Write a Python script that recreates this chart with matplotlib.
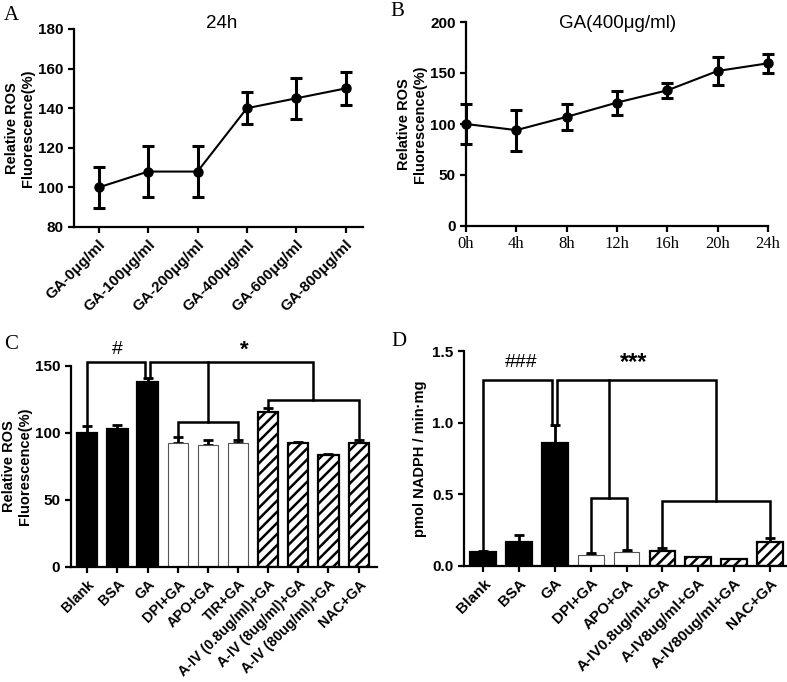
import matplotlib
matplotlib.use("Agg")
import matplotlib.pyplot as plt
import numpy as np

plt.rcParams['font.family'] = ['Liberation Sans', 'DejaVu Sans']
plt.rcParams['hatch.linewidth'] = 1.8

# panel A: dose response at 24h
a_labels = ['GA-0μg/ml', 'GA-100μg/ml', 'GA-200μg/ml', 'GA-400μg/ml', 'GA-600μg/ml', 'GA-800μg/ml']
a_mean = [100, 108, 108, 140, 145, 150]
a_err = [10.5, 13, 12.7, 8, 10.3, 8.5]

# panel B: time course at 400 ug/ml
b_hours = [0, 4, 8, 12, 16, 20, 24]
b_mean = [100, 94, 107, 121, 133, 152, 159.5]
b_err = [20, 20, 13, 11.7, 7.5, 14, 9.5]

# panel C: ROS with inhibitors
c_labels = ['Blank', 'BSA', 'GA', 'DPI+GA', 'APO+GA', 'TIR+GA', 'A-IV (0.8ug/ml)+GA',
            'A-IV (8ug/ml)+GA', 'A-IV (80ug/ml)+GA', 'NAC+GA']
c_mean = [100, 102.5, 137.5, 92, 91, 92.3, 115.3, 92.5, 83.2, 92]
c_err = [5, 3, 3.5, 4.5, 3.8, 2, 3.4, 0.8, 0.8, 2.5]
c_style = ['black', 'black', 'black', 'white', 'white', 'white', 'hatch', 'hatch', 'hatch', 'hatch']

# panel D: NADPH oxidase activity
d_labels = ['Blank', 'BSA', 'GA', 'DPI+GA', 'APO+GA', 'A-IV0.8ug/ml+GA', 'A-IV8ug/ml+GA',
            'A-IV80ug/ml+GA', 'NAC+GA']
d_mean = [0.095, 0.165, 0.855, 0.075, 0.098, 0.105, 0.06, 0.045, 0.165]
d_err = [0.01, 0.047, 0.13, 0.011, 0.011, 0.022, 0.003, 0.005, 0.03]
d_style = ['black', 'black', 'black', 'white', 'white', 'hatch', 'hatch', 'hatch', 'hatch']

fig = plt.figure(figsize=(7.87, 6.82), dpi=100)
W, H = 787.0, 682.0


def rect(l, r, t, b):
    return [l / W, 1 - b / H, (r - l) / W, (b - t) / H]


def style_axes(ax):
    for s in ['top', 'right']:
        ax.spines[s].set_visible(False)
    for s in ['left', 'bottom']:
        ax.spines[s].set_linewidth(1.6)
    ax.tick_params(width=1.6, length=4, labelsize=11)
    for t in ax.get_yticklabels():
        t.set_fontweight('bold')


def panel_letter(x, y, s):
    fig.text(x / W, 1 - y / H, s, family='Liberation Serif', fontsize=15, va='top', ha='left')


def title(x, y, s):
    fig.text(x / W, 1 - y / H, s, fontsize=13.5, ha='center', va='baseline')


# ---- A
axA = fig.add_axes(rect(74, 363, 29, 227))
xa = np.arange(len(a_mean))
axA.errorbar(xa, a_mean, yerr=a_err, color='black', lw=1.5, marker='o', ms=6.5,
             elinewidth=2.2, capsize=4.5, capthick=2.2)
axA.set_xlim(-0.5, 5.35)
axA.set_ylim(80, 180)
axA.set_yticks([80, 100, 120, 140, 160, 180])
axA.set_xticks(xa)
axA.set_xticklabels(a_labels, rotation=45, ha='right', rotation_mode='anchor', fontweight='bold')
axA.set_ylabel('Relative ROS\nFluorescence(%)', fontweight='bold', fontsize=10.5, labelpad=2)
style_axes(axA)
title(222, 28, '24h')
panel_letter(4, 6, 'A')

# ---- B
axB = fig.add_axes(rect(466, 768, 22, 226))
axB.errorbar(b_hours, b_mean, yerr=b_err, color='black', lw=1.5, marker='o', ms=6.5,
             elinewidth=2.2, capsize=4.5, capthick=2.2, clip_on=False)
axB.set_xlim(0, 24)
axB.set_ylim(0, 200)
axB.set_yticks([0, 50, 100, 150, 200])
axB.set_xticks(b_hours)
axB.set_xticklabels(['%dh' % h for h in b_hours], family='Liberation Serif')
axB.set_ylabel('Relative ROS\nFluorescence(%)', fontweight='bold', fontsize=10.5, labelpad=2)
style_axes(axB)
for t in axB.get_xticklabels():
    t.set_fontsize(12)
title(618, 28, 'GA(400μg/ml)')
panel_letter(390, 2, 'B')


def draw_bars(ax, means, errs, styles, width):
    x = np.arange(len(means))
    for i, (m, e, s) in enumerate(zip(means, errs, styles)):
        if s == 'black':
            ax.bar(i, m, width, color='black', edgecolor='black', lw=1.6, zorder=2)
        elif s == 'white':
            ax.bar(i, m, width, color='white', edgecolor='#555555', lw=0.8, zorder=2)
        else:
            ax.bar(i, m, width, color='white', edgecolor='black', hatch='///', lw=1.6, zorder=2)
        ax.errorbar(i, m, yerr=[[0], [e]], color='black', elinewidth=2, capsize=3.5,
                    capthick=2, zorder=1)
    return x


def path(ax, xs, ys):
    ax.plot(xs, ys, color='black', lw=1.8, clip_on=False, solid_joinstyle='miter', zorder=3)


# ---- C
axC = fig.add_axes(rect(70.7, 376.7, 365.7, 566.7))
xc = draw_bars(axC, c_mean, c_err, c_style, 0.67)
axC.set_xlim(-0.55, 9.6)
axC.set_ylim(0, 150)
axC.set_yticks([0, 50, 100, 150])
axC.set_xticks(xc)
axC.set_xticklabels(c_labels, rotation=45, ha='right', rotation_mode='anchor', fontweight='bold')
axC.set_ylabel('Relative ROS\nFluorescence(%)', fontweight='bold', fontsize=10.5, labelpad=2)
style_axes(axC)
for t in axC.get_xticklabels():
    t.set_fontsize(10.3)
ctop = [m + e for m, e in zip(c_mean, c_err)]
path(axC, [0, 0, 1.93, 1.93], [ctop[0], 153, 153, ctop[2]])
path(axC, [2.07, 2.07, 7.5, 7.5], [ctop[2], 153, 153, 124.5])
path(axC, [4, 4], [153, 108])
path(axC, [3, 3, 5, 5], [ctop[3], 108, 108, ctop[5]])
path(axC, [6, 6, 9, 9], [ctop[6], 124.5, 124.5, ctop[9]])
axC.text(1.0, 156, '#', ha='center', va='bottom', fontsize=14)
axC.text(5.2, 154, '*', ha='center', va='bottom', fontsize=16, fontweight='bold')
panel_letter(4, 335, 'C')

# ---- D
axD = fig.add_axes(rect(464, 786.7, 351, 565.7))
xd = draw_bars(axD, d_mean, d_err, d_style, 0.72)
axD.set_xlim(-0.54, 8.47)
axD.set_ylim(0, 1.5)
axD.set_yticks([0.0, 0.5, 1.0, 1.5])
axD.set_yticklabels(['0.0', '0.5', '1.0', '1.5'])
axD.set_xticks(xd)
axD.set_xticklabels(d_labels, rotation=45, ha='right', rotation_mode='anchor', fontweight='bold')
axD.set_ylabel('pmol NADPH / min·mg', fontweight='bold', fontsize=10.5)
style_axes(axD)
dtop = [m + e for m, e in zip(d_mean, d_err)]
path(axD, [0, 0, 1.93, 1.93], [dtop[0], 1.3, 1.3, dtop[2]])
path(axD, [2.05, 2.05, 6.5, 6.5], [dtop[2], 1.3, 1.3, 0.455])
path(axD, [3.5, 3.5], [1.3, 0.47])
path(axD, [3, 3, 4, 4], [dtop[3], 0.47, 0.47, dtop[4]])
path(axD, [5, 5, 8, 8], [dtop[5], 0.455, 0.455, dtop[8]])
axD.text(1.05, 1.36, '###', ha='center', va='bottom', fontsize=14)
axD.text(4.2, 1.34, '***', ha='center', va='bottom', fontsize=17, fontweight='bold')
panel_letter(391, 332, 'D')

fig.savefig('out.png', dpi=100)
